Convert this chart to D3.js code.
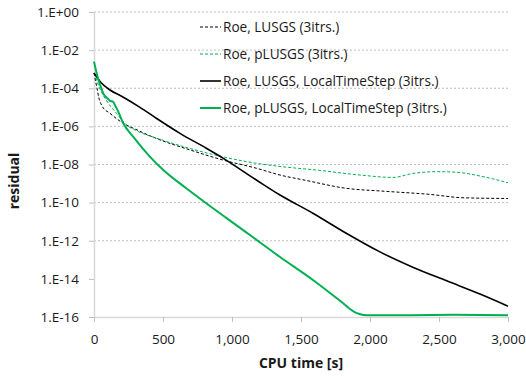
<!DOCTYPE html>
<html>
<head>
<meta charset="utf-8">
<script src="https://cdn.jsdelivr.net/npm/d3@7"></script>
<style>
  body { margin: 0; background: #fff; }
  svg text { font-family: "Open Sans", sans-serif; fill: #1a1a1a; }
</style>
</head>
<body>
<svg id="chart" width="526" height="378"></svg>
<script>
// CPU time [s] and residual for each run
const lusgsTime  = [0, 19, 35, 60, 116, 212, 300, 454, 696, 937, 1179, 1348, 1529, 1831, 2094, 2435, 2674, 3000];
const lusgsRes   = [6.3e-4, 1.26e-4, 3.2e-5, 1.12e-5, 4.8e-6, 1.45e-6, 7.1e-7, 2.3e-7, 5.8e-8, 1.7e-8, 6.3e-9, 2.8e-9, 1.5e-9, 5.6e-10, 4e-10, 2.7e-10, 1.8e-10, 1.65e-10];

const plusgsTime = [0, 41, 92, 164, 237, 300, 454, 696, 937, 1179, 1348, 1616, 1928, 2167, 2312, 2486, 2630, 2819, 3000];
const plusgsRes  = [6.3e-4, 1e-4, 2.2e-5, 4.8e-6, 1.17e-6, 6.3e-7, 2.4e-7, 6.9e-8, 2.5e-8, 1.15e-8, 7.9e-9, 5.1e-9, 2.8e-9, 2.1e-9, 3.4e-9, 4.2e-9, 3.9e-9, 2.3e-9, 1.1e-9];

const lusgsLtsTime = [0, 50, 116, 200, 333, 454, 623, 817, 937, 1179, 1348, 1589, 1831, 2072, 2314, 2556, 2797, 3000];
const lusgsLtsRes  = [6.3e-4, 2e-4, 8.1e-5, 3.8e-5, 1e-5, 2.6e-6, 4.3e-7, 6.9e-8, 2.1e-8, 1.5e-9, 2.5e-10, 2.7e-11, 2.4e-12, 2.6e-13, 4e-14, 7.9e-15, 1.6e-15, 3.7e-16];

const plusgsLtsTime = [0, 29, 53, 67, 101, 116, 138, 152, 174, 212, 285, 393, 502, 671, 1130, 1348, 1589, 1783, 1879, 1976, 2300, 2600, 3000];
const plusgsLtsRes  = [2.5e-3, 3.3e-4, 1e-4, 5.4e-5, 2.8e-5, 2.2e-5, 2e-5, 1.3e-5, 6.3e-6, 1.45e-6, 2.8e-7, 3.2e-8, 5.1e-9, 5.5e-10, 2e-12, 1.4e-13, 8.5e-15, 7.1e-16, 2e-16, 1.25e-16, 1.25e-16, 1.3e-16, 1.25e-16];

const seriesNames = ["Roe, LUSGS (3itrs.)", "Roe, pLUSGS (3itrs.)", "Roe, LUSGS, LocalTimeStep (3itrs.)", "Roe, pLUSGS, LocalTimeStep (3itrs.)"];
const xTicks = [0, 500, 1000, 1500, 2000, 2500, 3000];
const yTicks = [1e0, 1e-2, 1e-4, 1e-6, 1e-8, 1e-10, 1e-12, 1e-14, 1e-16];

const green = "#00b050";
const series = [
  { name: seriesNames[0], t: lusgsTime, r: lusgsRes, color: "#000", width: 1, dash: "3,2" },
  { name: seriesNames[1], t: plusgsTime, r: plusgsRes, color: green, width: 1, dash: "3,2" },
  { name: seriesNames[2], t: lusgsLtsTime, r: lusgsLtsRes, color: "#000", width: 1.6, dash: null },
  { name: seriesNames[3], t: plusgsLtsTime, r: plusgsLtsRes, color: green, width: 2, dash: null }
];

const plotLeft = 94, plotRight = 508, plotTop = 12, plotBottom = 317;
const svg = d3.select("#chart");

const x = d3.scaleLinear().domain([0, 3000]).range([plotLeft, plotRight]);
const y = d3.scaleLog().domain([1e-16, 1]).range([plotBottom, plotTop]);

const expLabel = v => {
  const e = Math.round(Math.log10(v));
  return "1.E" + (e < 0 ? "-" : "+") + String(Math.abs(e)).padStart(2, "0");
};

// gridlines (Excel leaves none on 1.E-14 here)
svg.append("g")
  .selectAll("line")
  .data(yTicks.filter(v => v > 1e-14))
  .enter().append("line")
  .attr("x1", plotLeft).attr("x2", plotRight)
  .attr("y1", d => y(d)).attr("y2", d => y(d))
  .attr("stroke", "#bfbfbf")
  .attr("stroke-dasharray", "2,2");

// Y axis
const yAxis = svg.append("g")
  .attr("transform", "translate(" + plotLeft + ",0)")
  .call(d3.axisLeft(y).tickValues(yTicks).tickFormat(expLabel).tickSizeInner(5).tickSizeOuter(0).tickPadding(10));
yAxis.select(".domain").attr("stroke", "#d9d9d9").attr("stroke-width", 1.5);
yAxis.selectAll(".tick line").attr("stroke", "#bfbfbf");
yAxis.selectAll("text").style("font-family", "Open Sans").style("font-size", "13.5px").attr("fill", "#1a1a1a");

// X axis
const xAxis = svg.append("g")
  .attr("transform", "translate(0," + plotBottom + ")")
  .call(d3.axisBottom(x).tickValues(xTicks).tickFormat(d3.format(",")).tickSizeInner(5).tickSizeOuter(0).tickPadding(12));
xAxis.select(".domain").attr("stroke", "#d9d9d9").attr("stroke-width", 1.5);
xAxis.selectAll(".tick line").attr("stroke", "#bfbfbf");
xAxis.selectAll("text").style("font-family", "Open Sans").style("font-size", "13.5px").attr("fill", "#1a1a1a");

// Lines
const line = d3.line()
  .x(d => x(d[0]))
  .y(d => y(d[1]))
  .curve(d3.curveMonotoneX);

svg.append("g")
  .selectAll("path")
  .data(series)
  .enter().append("path")
  .attr("d", s => line(s.t.map((t, i) => [t, s.r[i]])))
  .attr("fill", "none")
  .attr("stroke", s => s.color)
  .attr("stroke-width", s => s.width)
  .attr("stroke-dasharray", s => s.dash);

// Legend
const legend = svg.append("g")
  .selectAll("g")
  .data(series)
  .enter().append("g")
  .attr("transform", (d, i) => "translate(200," + (27 + i * 27) + ")");

legend.append("line")
  .attr("x1", 0).attr("x2", 21)
  .attr("stroke", d => d.color)
  .attr("stroke-width", d => d.dash ? 1 : d.width)
  .attr("stroke-dasharray", d => d.dash);

legend.append("text")
  .attr("x", 23)
  .attr("dy", "0.35em")
  .style("font-size", "13.6px")
  .text(d => d.name);

// Axis titles
svg.append("text")
  .attr("x", (plotLeft + plotRight) / 2)
  .attr("y", 368)
  .attr("text-anchor", "middle")
  .style("font-size", "14px")
  .style("font-weight", "bold")
  .text("CPU time [s]");

svg.append("text")
  .attr("transform", "translate(19,181) rotate(-90)")
  .attr("text-anchor", "middle")
  .style("font-size", "14px")
  .style("font-weight", "bold")
  .text("residual");
</script>
</body>
</html>
